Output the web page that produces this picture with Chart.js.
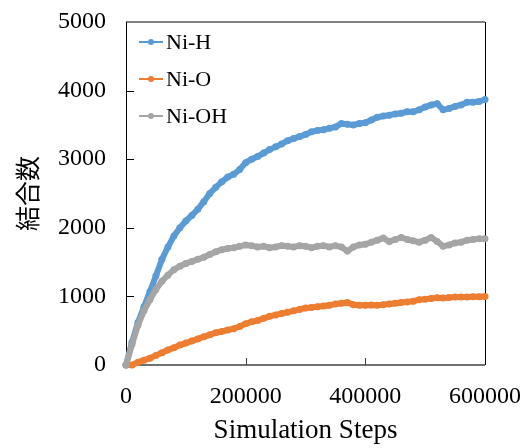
<!DOCTYPE html>
<html lang="ja">
<head>
<meta charset="UTF-8">
<title>結合数</title>
<script src="https://cdn.jsdelivr.net/npm/chart.js"></script>
<style>
  html, body { margin: 0; padding: 0; background: #fff; }
  #wrap { width: 528px; height: 448px; }
</style>
</head>
<body>
<div id="wrap"><canvas id="chart" width="528" height="448"></canvas></div>
<script>
// Simulation steps (x)
const steps = [
  0, 10000, 20000, 30000, 40000, 50000, 60000, 70000, 80000, 90000,
  100000, 110000, 120000, 130000, 140000, 150000, 160000, 170000, 180000, 190000,
  200000, 210000, 220000, 230000, 240000, 250000, 260000, 270000, 280000, 290000,
  300000, 310000, 320000, 330000, 340000, 350000, 360000, 370000, 380000, 390000,
  400000, 410000, 420000, 430000, 440000, 450000, 460000, 470000, 480000, 490000,
  500000, 510000, 520000, 530000, 540000, 550000, 560000, 570000, 580000, 590000,
  600000
];

const niH = [
  0, 330, 620, 850, 1070, 1300, 1540, 1720, 1880, 2000,
  2100, 2180, 2270, 2380, 2500, 2590, 2670, 2740, 2780, 2850,
  2950, 3000, 3040, 3090, 3140, 3180, 3220, 3270, 3300, 3330,
  3360, 3400, 3420, 3430, 3450, 3470, 3520, 3510, 3500, 3520,
  3530, 3570, 3610, 3630, 3640, 3660, 3670, 3690, 3690, 3720,
  3760, 3790, 3810, 3720, 3740, 3770, 3790, 3830, 3830, 3840,
  3870
];

const niO = [
  0, 0, 40, 70, 100, 140, 180, 220, 250, 290,
  320, 350, 380, 410, 440, 470, 490, 510, 530, 560,
  600, 630, 650, 680, 710, 730, 750, 770, 790, 810,
  830, 840, 850, 860, 870, 890, 900, 910, 880, 870,
  870, 875, 870, 880, 890, 900, 910, 920, 930, 950,
  960, 970, 980, 975, 985, 990, 990, 990, 995, 995,
  1000
];

const niOH = [
  0, 300, 580, 790, 950, 1100, 1220, 1310, 1390, 1440,
  1480, 1510, 1540, 1570, 1610, 1650, 1680, 1700, 1710, 1730,
  1750, 1740, 1720, 1730, 1710, 1720, 1740, 1730, 1720, 1740,
  1730, 1710, 1730, 1740, 1720, 1740, 1720, 1660, 1720, 1750,
  1760, 1790, 1820, 1850, 1800, 1830, 1860, 1830, 1810, 1790,
  1820, 1860, 1800, 1730, 1750, 1780, 1790, 1820, 1830, 1840,
  1840
];

const seriesNames = ['Ni-H', 'Ni-O', 'Ni-OH'];
const xTicks = [0, 200000, 400000, 600000];
const yTicks = [0, 1000, 2000, 3000, 4000, 5000];

const colors = ['#5B9BD5', '#ED7D31', '#A5A5A5'];
const serif = "'Times New Roman', 'Liberation Serif', serif";

function pts(vals) {
  return vals.map((v, i) => ({ x: steps[i], y: v }));
}

// marco, marcas interiores y leyenda
const extras = {
  id: 'extras',
  beforeDatasetsDraw(chart) {
    const { ctx, chartArea: a, scales } = chart;
    ctx.save();
    ctx.strokeStyle = '#595959';
    ctx.lineWidth = 1.5;
    ctx.beginPath();
    ctx.moveTo(a.left, a.top);
    ctx.lineTo(a.right, a.top);
    ctx.stroke();
    ctx.strokeStyle = '#000';
    ctx.lineWidth = 1;
    ctx.beginPath();
    ctx.moveTo(a.right + 0.5, a.top);
    ctx.lineTo(a.right + 0.5, a.bottom);
    ctx.stroke();
    ctx.beginPath();
    ctx.moveTo(a.left + 0.5, a.top);
    ctx.lineTo(a.left + 0.5, a.bottom);
    ctx.stroke();
    ctx.strokeStyle = '#404040';
    ctx.lineWidth = 1.5;
    ctx.beginPath();
    ctx.moveTo(a.left, a.bottom);
    ctx.lineTo(a.right, a.bottom);
    ctx.stroke();
    ctx.lineWidth = 1;
    ctx.strokeStyle = '#000';
    yTicks.slice(1, -1).forEach(v => {
      const y = Math.round(scales.y.getPixelForValue(v)) + 0.5;
      ctx.beginPath();
      ctx.moveTo(a.left, y);
      ctx.lineTo(a.left + 8, y);
      ctx.stroke();
    });
    ctx.strokeStyle = '#404040';
    xTicks.slice(1, -1).forEach(v => {
      const x = Math.round(scales.x.getPixelForValue(v)) + 0.5;
      ctx.beginPath();
      ctx.moveTo(x, a.bottom);
      ctx.lineTo(x, a.bottom - 7);
      ctx.stroke();
    });
    ctx.restore();
  },
  afterDraw(chart) {
    const { ctx, chartArea: a } = chart;
    ctx.save();
    ctx.font = '22px ' + serif;
    ctx.textBaseline = 'middle';
    ctx.textAlign = 'left';
    chart.data.datasets.forEach((ds, i) => {
      const y = a.top + 20 + i * 37;
      const x0 = a.left + 13;
      ctx.strokeStyle = ds.borderColor;
      ctx.lineWidth = 2;
      ctx.beginPath();
      ctx.moveTo(x0, y);
      ctx.lineTo(x0 + 24, y);
      ctx.stroke();
      ctx.fillStyle = ds.borderColor;
      ctx.beginPath();
      ctx.arc(x0 + 12, y, 3, 0, Math.PI * 2);
      ctx.fill();
      ctx.fillStyle = '#000';
      ctx.fillText(ds.label, x0 + 27, y + 1);
    });
    ctx.restore();
  }
};

new Chart(document.getElementById('chart'), {
  type: 'line',
  data: {
    datasets: [
      { label: seriesNames[0], data: pts(niH), borderColor: colors[0], backgroundColor: colors[0], order: 3 },
      { label: seriesNames[1], data: pts(niO), borderColor: colors[1], backgroundColor: colors[1], order: 2 },
      { label: seriesNames[2], data: pts(niOH), borderColor: colors[2], backgroundColor: colors[2], order: 1 }
    ]
  },
  options: {
    responsive: false,
    animation: false,
    layout: { padding: { left: 0, top: 22, right: 43, bottom: 0 } },
    elements: {
      line: { borderWidth: 6, tension: 0 },
      point: { radius: 3.5, borderWidth: 0, hoverRadius: 3.5 }
    },
    datasets: { line: { clip: false } },
    plugins: {
      legend: { display: false },
      tooltip: { enabled: false }
    },
    scales: {
      x: {
        type: 'linear',
        min: 0,
        max: 600000,
        afterBuildTicks: s => { s.ticks = xTicks.map(v => ({ value: v })); },
        afterFit: s => { s.height = 83; s.paddingLeft = 0; s.paddingRight = 0; },
        grid: { display: false, drawTicks: false },
        border: { display: false },
        ticks: {
          padding: 17,
          color: '#000',
          font: { family: serif, size: 24 },
          maxRotation: 0,
          callback: v => String(v)
        },
        title: {
          display: true,
          text: 'Simulation Steps',
          color: '#000',
          font: { family: serif, size: 27 },
          padding: { top: 0, bottom: 1 }
        }
      },
      y: {
        min: 0,
        max: 5000,
        afterBuildTicks: s => { s.ticks = yTicks.map(v => ({ value: v })); },
        afterFit: s => { s.width = 126; s.paddingTop = 0; s.paddingBottom = 0; },
        grid: { display: false, drawTicks: false },
        border: { display: false },
        ticks: {
          padding: 20,
          color: '#000',
          font: { family: serif, size: 24 },
          callback: v => String(v)
        },
        title: {
          display: true,
          text: '結合数',
          color: '#000',
          font: { family: "'Noto Sans CJK JP', sans-serif", size: 25 },
          padding: { top: 12, bottom: 0 }
        }
      }
    }
  },
  plugins: [extras]
});
</script>
</body>
</html>
